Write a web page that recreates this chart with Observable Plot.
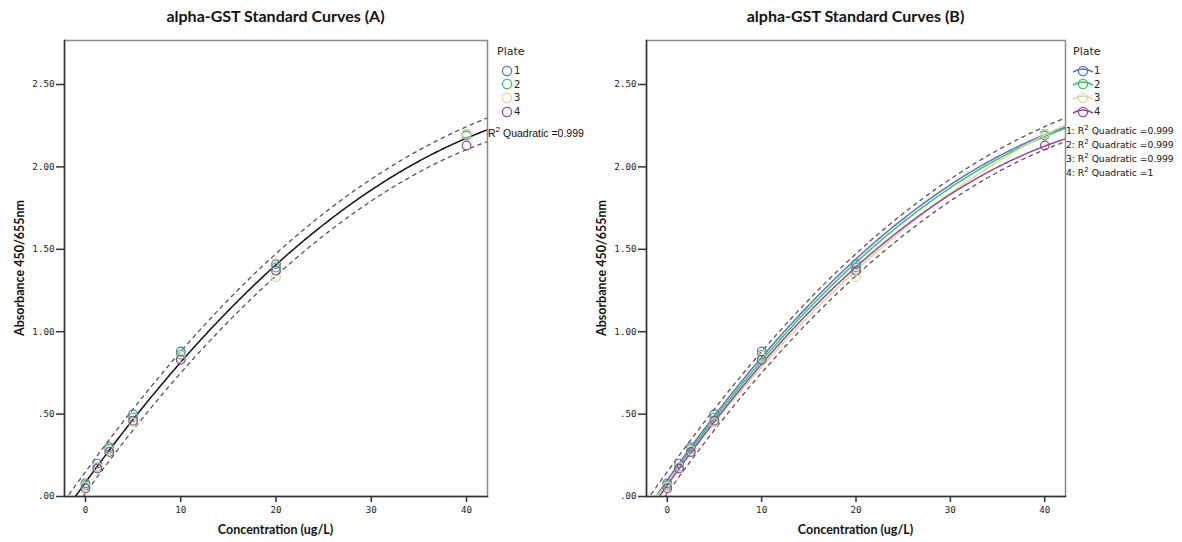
<!DOCTYPE html>
<html>
<head>
<meta charset="utf-8">
<script src="https://cdn.jsdelivr.net/npm/d3@7"></script>
<script src="https://cdn.jsdelivr.net/npm/@observablehq/plot@0.6"></script>
<style>
  html, body { margin: 0; padding: 0; background: #fff; }
  #wrap { position: relative; width: 1182px; height: 542px; overflow: hidden; font-family: "DejaVu Sans", sans-serif; }
  .panel { position: absolute; top: 0; width: 591px; height: 542px; }
  .title { position: absolute; top: 6px; font: bold 16px Lato, sans-serif; color: #111; white-space: nowrap; transform: translateX(-50%); }
  .xlab { position: absolute; top: 522px; font: bold 12.5px Lato, sans-serif; color: #111; white-space: nowrap; transform: translateX(-50%); }
  .ylab { position: absolute; font: bold 12.5px Lato, sans-serif; color: #111; white-space: nowrap; transform-origin: 0 0; transform: rotate(-90deg) translateX(-50%); }
  .legend { position: absolute; font: 11px "DejaVu Sans", sans-serif; color: #222; }
  .legend .head { margin-bottom: 6px; }
  .legend .row { height: 13.6px; display: flex; align-items: center; }
  .r2 { position: absolute; font: 10.5px "Liberation Sans", Arial, sans-serif; color: #111; white-space: nowrap; }
  .r2b { position: absolute; font: 9.2px "DejaVu Sans", sans-serif; color: #111; white-space: nowrap; line-height: 14px; }
  svg { overflow: visible; }
</style>
</head>
<body>
<div id="wrap"></div>
<script>
// ---- Data ----
const concentrations = [0, 1.25, 2.5, 5, 10, 20, 40];
const plate1 = [0.08, 0.20, 0.30, 0.50, 0.88, 1.41, 2.20];
const plate2 = [0.07, 0.18, 0.29, 0.48, 0.86, 1.39, 2.19];
const plate3 = [0.06, 0.18, 0.28, 0.45, 0.84, 1.33, 2.20];
const plate4 = [0.05, 0.17, 0.27, 0.46, 0.83, 1.37, 2.13];
const plateNames = ["1", "2", "3", "4"];
const plateColors = ["#5a73c4", "#3fc266", "#dcd6a0", "#93479a"];
const r2Labels = ["0.999", "0.999", "0.999", "1"];
const r2Overall = "0.999";
const xTicks = [0, 10, 20, 30, 40];
const yTicks = [0, 0.5, 1, 1.5, 2, 2.5];

const plates = [plate1, plate2, plate3, plate4];
const points = plates.flatMap((vals, i) => vals.map((v, j) => ({plate: plateNames[i], x: concentrations[j], y: v})));

// ---- quadratic least-squares fit with 95% individual prediction interval ----
function inv3(m) {
  const [a,b,c] = m[0], [d,e,f] = m[1], [g,h,k] = m[2];
  const A = e*k - f*h, B = -(d*k - f*g), C = d*h - e*g;
  const det = a*A + b*B + c*C;
  return [
    [A/det, -(b*k - c*h)/det, (b*f - c*e)/det],
    [B/det, (a*k - c*g)/det, -(a*f - c*d)/det],
    [C/det, -(a*h - b*g)/det, (a*e - b*d)/det]
  ];
}
function quadFit(pts) {
  const S = [[0,0,0],[0,0,0],[0,0,0]], r = [0,0,0];
  for (const p of pts) {
    const v = [1, p.x, p.x*p.x];
    for (let j = 0; j < 3; j++) { r[j] += v[j]*p.y; for (let k = 0; k < 3; k++) S[j][k] += v[j]*v[k]; }
  }
  const I = inv3(S);
  const coef = [0,1,2].map(j => I[j][0]*r[0] + I[j][1]*r[1] + I[j][2]*r[2]);
  const f = x => coef[0] + coef[1]*x + coef[2]*x*x;
  const sse = d3.sum(pts, p => (p.y - f(p.x))**2);
  const s2 = sse / (pts.length - 3);
  const t = 2.06;
  const se = x => { const v = [1, x, x*x]; let q = 0; for (let j=0;j<3;j++) for (let k=0;k<3;k++) q += v[j]*I[j][k]*v[k]; return Math.sqrt(s2*(1+q)); };
  return {f, lo: x => f(x) - t*se(x), hi: x => f(x) + t*se(x)};
}
const xDomain = [-2.2, 42.2];
const yDomain = [0, 2.767];
const grid = d3.range(xDomain[0], xDomain[1] + 0.001, 0.1);
const all = quadFit(points);
const overallCurve = grid.map(x => ({x, y: all.f(x), lo: all.lo(x), hi: all.hi(x)}));
const plateCurves = plateNames.flatMap((name, i) => {
  const fit = quadFit(points.filter(p => p.plate === name));
  return grid.map(x => ({plate: name, x, y: fit.f(x)}));
});

const colorScale = {domain: plateNames, range: plateColors};
const fmtY = d => d3.format(".2f")(d).replace(/^0/, "");

function basePlot(marginLeft, marginRight, extra) {
  return Plot.plot({
    width: 591, height: 542,
    marginLeft, marginRight, marginTop: 40, marginBottom: 46,
    x: {domain: xDomain},
    y: {domain: yDomain},
    color: colorScale,
    style: {fontFamily: "DejaVu Sans Mono, monospace", fontSize: "9.2px", color: "#222", background: "transparent"},
    marks: [
      Plot.frame({stroke: "#8a8a8a", strokeWidth: 1.5}),
      Plot.frame({anchor: "left", stroke: "#333", strokeWidth: 1.5}),
      Plot.frame({anchor: "bottom", stroke: "#333", strokeWidth: 1.5}),
      Plot.axisY({ticks: yTicks, tickFormat: fmtY, tickSize: 8, tickPadding: 2, label: null, strokeWidth: 1.5, stroke: "#333"}),
      Plot.axisX({ticks: xTicks, tickSize: 6, tickPadding: 4, label: null, strokeWidth: 1.5, stroke: "#333"}),
      Plot.line(overallCurve, {x: "x", y: "lo", stroke: "#555", strokeDasharray: "3.5,4.5", strokeWidth: 1.3, clip: true}),
      Plot.line(overallCurve, {x: "x", y: "hi", stroke: "#555", strokeDasharray: "3.5,4.5", strokeWidth: 1.3, clip: true}),
      ...extra,
      Plot.dot(points, {x: "x", y: "y", stroke: "plate", r: 4.3, strokeWidth: 1.2, fill: "none"})
    ]
  });
}

const wrap = document.getElementById("wrap");

function addPanel(left, marginLeft, marginRight, titleText, extra) {
  const panel = document.createElement("div");
  panel.className = "panel";
  panel.style.left = left + "px";
  panel.appendChild(basePlot(marginLeft, marginRight, extra));
  const cx = (marginLeft + (591 - marginRight)) / 2;
  const t = document.createElement("div"); t.className = "title"; t.textContent = titleText; t.style.left = cx + "px"; panel.appendChild(t);
  const xl = document.createElement("div"); xl.className = "xlab"; xl.textContent = "Concentration (ug/L)"; xl.style.left = cx + "px"; panel.appendChild(xl);
  const yl = document.createElement("div"); yl.className = "ylab"; yl.textContent = "Absorbance 450/655nm"; yl.style.left = (marginLeft - 52) + "px"; yl.style.top = "268px"; panel.appendChild(yl);
  wrap.appendChild(panel);
  return panel;
}

function legendSymbol(color, withLine) {
  const ns = "http://www.w3.org/2000/svg";
  const s = document.createElementNS(ns, "svg");
  s.setAttribute("width", withLine ? 20 : 12); s.setAttribute("height", 12);
  const cxv = withLine ? 10 : 6;
  if (withLine) {
    const p = document.createElementNS(ns, "path");
    p.setAttribute("d", "M0,7 Q10,1 20,7");
    p.setAttribute("stroke", color); p.setAttribute("fill", "none"); p.setAttribute("stroke-width", 1.5);
    s.appendChild(p);
  }
  const c = document.createElementNS(ns, "circle");
  c.setAttribute("cx", cxv); c.setAttribute("cy", 6); c.setAttribute("r", 4.6);
  c.setAttribute("stroke", color); c.setAttribute("fill", "none"); c.setAttribute("stroke-width", 1.3);
  s.appendChild(c);
  return s;
}
function addLegend(panel, left, withLine) {
  const lg = document.createElement("div"); lg.className = "legend";
  lg.style.left = left + "px"; lg.style.top = "45px";
  const h = document.createElement("div"); h.className = "head"; h.textContent = "Plate"; lg.appendChild(h);
  plateNames.forEach((n, i) => {
    const row = document.createElement("div"); row.className = "row";
    row.style.paddingLeft = withLine ? "0px" : "4px";
    row.appendChild(legendSymbol(plateColors[i], withLine));
    const sp = document.createElement("span"); sp.textContent = n; sp.style.marginLeft = "1px"; sp.style.fontSize = "10px";
    row.appendChild(sp);
    lg.appendChild(row);
  });
  panel.appendChild(lg);
}

// Panel A
const pA = addPanel(0, 64, 104, "alpha-GST Standard Curves (A)", [
  Plot.line(overallCurve, {x: "x", y: "y", stroke: "#111", strokeWidth: 1.5, clip: true})
]);
addLegend(pA, 497, false);
const rA = document.createElement("div"); rA.className = "r2";
rA.innerHTML = "R<sup style='font-size:8px;vertical-align:5px;line-height:0'>2</sup> Quadratic =" + r2Overall;
rA.style.left = "488px"; rA.style.top = "127px";
pA.appendChild(rA);

// Panel B
const pB = addPanel(591, 55, 117, "alpha-GST Standard Curves (B)", [
  Plot.line(plateCurves, {x: "x", y: "y", z: "plate", stroke: "plate", strokeWidth: 1.5, clip: true})
]);
addLegend(pB, 482, true);
const rB = document.createElement("div"); rB.className = "r2b";
rB.style.left = "475px"; rB.style.top = "124px";
rB.innerHTML = plateNames.map((n, i) => n + ": R<sup style='font-size:7px;vertical-align:4px;line-height:0'>2</sup> Quadratic =" + r2Labels[i]).join("<br>");
pB.appendChild(rB);
</script>
</body>
</html>
